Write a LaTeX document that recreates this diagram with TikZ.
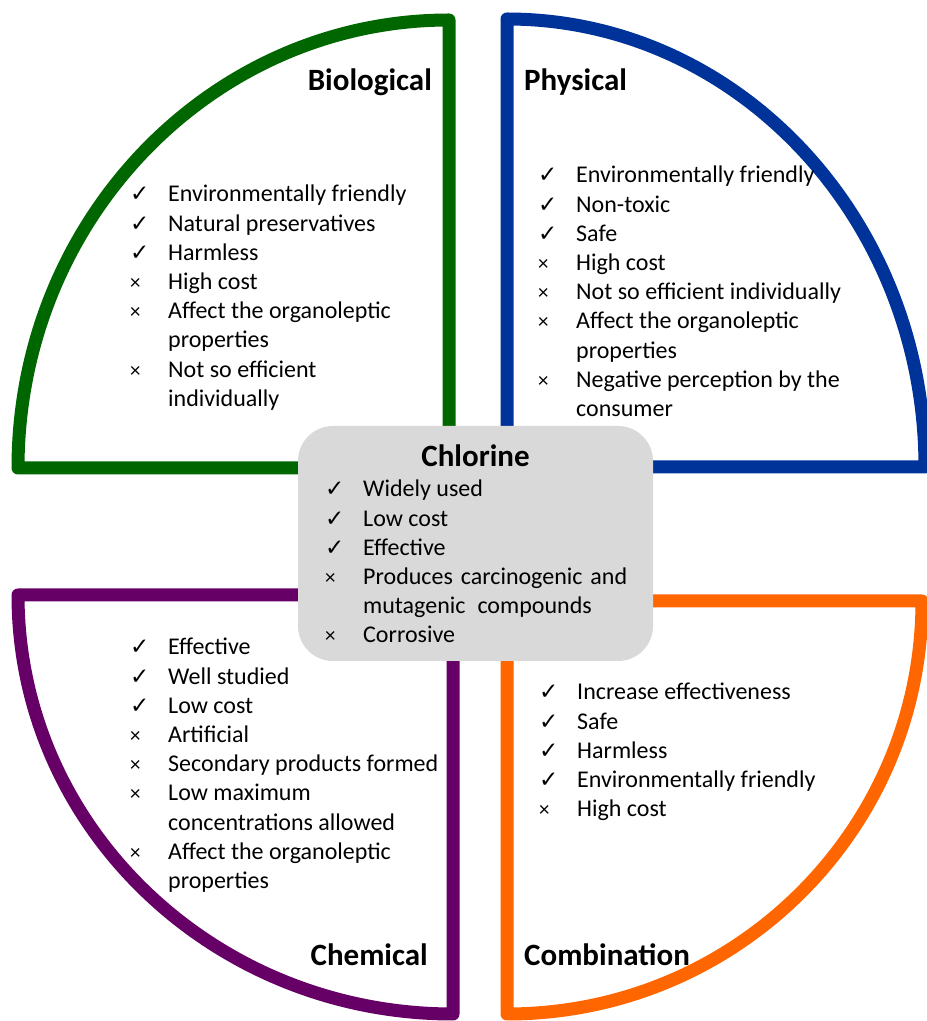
\documentclass[tikz,border=0pt]{standalone}
\usepackage{fontspec}
\setmainfont{Carlito}
\newfontfamily\symfont{DejaVu Sans}
\definecolor{cgreen}{RGB}{0,102,0}
\definecolor{cblue}{RGB}{0,51,153}
\definecolor{cpurple}{RGB}{102,0,102}
\definecolor{corange}{RGB}{255,102,0}
\definecolor{cgray}{RGB}{217,217,217}
\newcommand{\yesmark}{\makebox[38pt][l]{{\symfont\fontsize{23}{24}\selectfont ✓}}}
\newcommand{\nomark}{\makebox[38pt][l]{{\fontsize{21}{21}\selectfont ×}}}
\newcommand{\contline}{\hspace*{38pt}}
\tikzset{
  quad/.style={line width=13pt, line join=round, fill=white},
  listtext/.style={inner sep=0pt, anchor=base west, font=\fontsize{24}{29.2}\selectfont},
  titletext/.style={inner sep=0pt, font=\bfseries\fontsize{31}{36}\selectfont},
}
\begin{document}
\begin{tikzpicture}[x=1pt,y=1pt]
\useasboundingbox (0,0) rectangle (927,1021);
% quadrants
\draw[quad, draw=cgreen] (18,553) -- (449,553) -- (449,1001) arc[start angle=90, end angle=180, x radius=431, y radius=448] -- cycle;
\draw[quad, draw=cblue] (507,554) -- (507,1002) arc[start angle=90, end angle=0, x radius=418, y radius=448] -- cycle;
\draw[quad, draw=cpurple] (18,426) -- (453,426) -- (453,7) arc[start angle=270, end angle=180, x radius=435, y radius=419] -- cycle;
\draw[quad, draw=corange] (507,420) -- (922,420) arc[start angle=0, end angle=-90, x radius=415, y radius=413] -- cycle;
% center box
\node[fill=cgray, rounded corners=35pt, minimum width=355pt, minimum height=235pt, inner sep=0pt] (chlbox) at (475.5,477.5) {};
% titles
\node[titletext, anchor=base east] (biot) at (432,930) {Biological};
\node[titletext, anchor=base west] (phyt) at (524,930) {Physical};
\node[titletext, anchor=base east] (chet) at (428,55) {Chemical};
\node[titletext, anchor=base west] (comt) at (524,55) {Combination};
\node[titletext, anchor=base] (chlt) at (475.5,554) {Chlorine};
% lists
\node[listtext] (biol) at (130,819) {\begin{tabular}[t]{@{}l@{}}
\yesmark Environmentally friendly\\
\yesmark Natural preservatives\\
\yesmark Harmless\\
\nomark High cost\\
\nomark Affect the organoleptic\\
\contline properties\\
\nomark Not so efficient\\
\contline individually
\end{tabular}};
\node[listtext] (phyl) at (538,838) {\begin{tabular}[t]{@{}l@{}}
\yesmark Environmentally friendly\\
\yesmark Non-toxic\\
\yesmark Safe\\
\nomark High cost\\
\nomark Not so efficient individually\\
\nomark Affect the organoleptic\\
\contline properties\\
\nomark Negative perception by the\\
\contline consumer
\end{tabular}};
\node[listtext] (chll) at (325,524) {\begin{tabular}[t]{@{}l@{}}
\yesmark Widely used\\
\yesmark Low cost\\
\yesmark Effective\\
\nomark \makebox[264pt][l]{Produces\hfill carcinogenic\hfill and}\\
\contline mutagenic\hspace{12pt}compounds\\
\nomark Corrosive
\end{tabular}};
\node[listtext] (chel) at (130,366) {\begin{tabular}[t]{@{}l@{}}
\yesmark Effective\\
\yesmark Well studied\\
\yesmark Low cost\\
\nomark Artificial\\
\nomark Secondary products formed\\
\nomark Low maximum\\
\contline concentrations allowed\\
\nomark Affect the organoleptic\\
\contline properties
\end{tabular}};
\node[listtext] (coml) at (539,321) {\begin{tabular}[t]{@{}l@{}}
\yesmark Increase effectiveness\\
\yesmark Safe\\
\yesmark Harmless\\
\yesmark Environmentally friendly\\
\nomark High cost
\end{tabular}};
\end{tikzpicture}
\end{document}
